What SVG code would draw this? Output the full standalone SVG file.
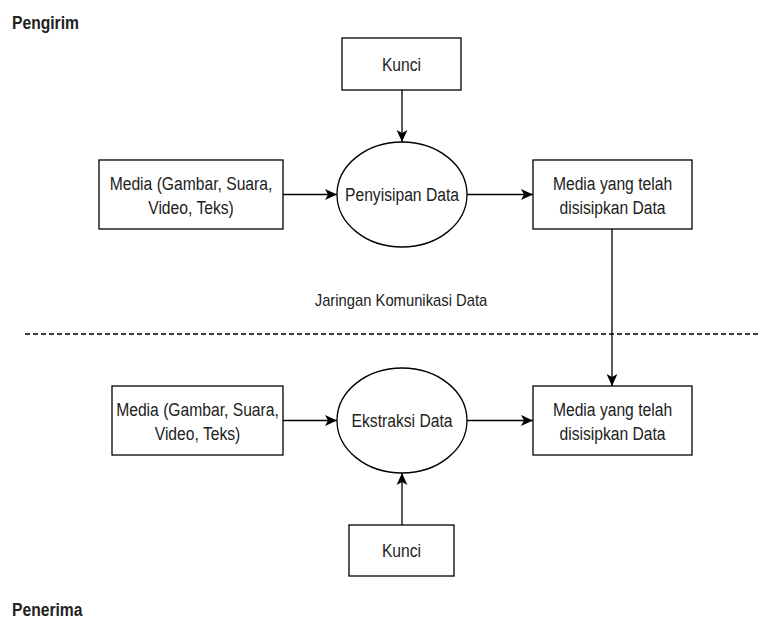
<svg xmlns="http://www.w3.org/2000/svg" width="761" height="619" viewBox="0 0 761 619">
<style>
.box{fill:#fff;stroke:#000;stroke-width:1.3}
.ell{fill:#fff;stroke:#000;stroke-width:1.3}
.ln{fill:none;stroke:#000;stroke-width:1.3}
.dash{fill:none;stroke:#000;stroke-width:1.3;stroke-dasharray:5 3}
text{font-family:"Liberation Sans",Arial,sans-serif;font-size:18px;fill:#222}
.c{text-anchor:middle}
.b{font-weight:bold}
</style>
<defs>
<marker id="arr" markerUnits="userSpaceOnUse" markerWidth="12" markerHeight="12" viewBox="0 0 10 10" refX="10" refY="5" orient="auto">
<path d="M0,0.5 L10,5 L0,9.5 L2.5,5 z" fill="#000"/>
</marker>
</defs>
<rect width="761" height="619" fill="#fff"/>
<g id="label-pengirim"><g transform="translate(12,29) scale(0.87,1)"><text class="b" x="0" y="0">Pengirim</text></g></g>
<g id="label-penerima"><g transform="translate(12,616) scale(0.87,1)"><text class="b" x="0" y="0">Penerima</text></g></g>
<g id="label-jaringan"><g transform="translate(401,306) scale(0.87,1)"><text class="c" style="font-size:17px" x="0" y="0">Jaringan Komunikasi Data</text></g></g>
<g id="connectors">
<line class="dash" x1="25" y1="334" x2="758" y2="334"/>
<line class="ln" x1="402" y1="90" x2="402" y2="142" marker-end="url(#arr)"/>
<line class="ln" x1="283" y1="194.5" x2="337" y2="194.5" marker-end="url(#arr)"/>
<line class="ln" x1="467" y1="194.5" x2="533" y2="194.5" marker-end="url(#arr)"/>
<line class="ln" x1="612" y1="229" x2="612" y2="386" marker-end="url(#arr)"/>
<line class="ln" x1="283" y1="420.5" x2="337" y2="420.5" marker-end="url(#arr)"/>
<line class="ln" x1="467" y1="420.5" x2="533" y2="420.5" marker-end="url(#arr)"/>
<line class="ln" x1="402" y1="525" x2="402" y2="473" marker-end="url(#arr)"/>
</g>
<g id="kunci-top"><rect class="box" x="342" y="38" width="119" height="52"/><g transform="translate(401.5,70.5) scale(0.87,1)"><text class="c" x="0" y="0">Kunci</text></g></g>
<g id="media-top"><rect class="box" x="99" y="160" width="184" height="69"/><g transform="translate(191,0) scale(0.87,1)"><text class="c" x="0" y="190.5">Media (Gambar, Suara,</text><text class="c" x="0" y="214">Video, Teks)</text></g></g>
<g id="penyisipan"><ellipse class="ell" cx="402" cy="194.5" rx="65" ry="52.5"/><g transform="translate(402,201) scale(0.87,1)"><text class="c" x="0" y="0">Penyisipan Data</text></g></g>
<g id="hasil-top"><rect class="box" x="533" y="160" width="159" height="69"/><g transform="translate(612.5,0) scale(0.87,1)"><text class="c" x="0" y="190.5">Media yang telah</text><text class="c" x="0" y="214">disisipkan Data</text></g></g>
<g id="media-bottom"><rect class="box" x="112" y="386" width="171" height="69"/><g transform="translate(197.5,0) scale(0.87,1)"><text class="c" x="0" y="416.5">Media (Gambar, Suara,</text><text class="c" x="0" y="440">Video, Teks)</text></g></g>
<g id="ekstraksi"><ellipse class="ell" cx="402" cy="420.5" rx="65" ry="52.5"/><g transform="translate(402,427) scale(0.87,1)"><text class="c" x="0" y="0">Ekstraksi Data</text></g></g>
<g id="hasil-bottom"><rect class="box" x="533" y="386" width="159" height="69"/><g transform="translate(612.5,0) scale(0.87,1)"><text class="c" x="0" y="416.5">Media yang telah</text><text class="c" x="0" y="440">disisipkan Data</text></g></g>
<g id="kunci-bottom"><rect class="box" x="349" y="525" width="105" height="51"/><g transform="translate(401.5,557) scale(0.87,1)"><text class="c" x="0" y="0">Kunci</text></g></g>
</svg>
